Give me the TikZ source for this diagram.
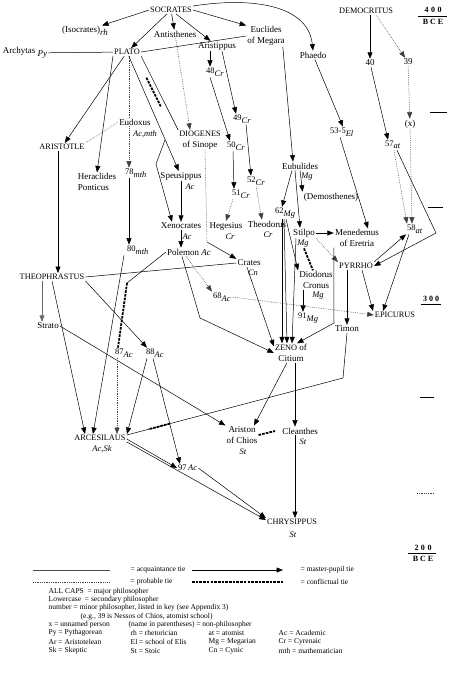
\documentclass[tikz,border=0pt]{standalone}
\usepackage{fontspec}
\setmainfont{Liberation Serif}
\usetikzlibrary{arrows.meta,calc}
\newcommand{\sbx}[1]{\raisebox{-2.5pt}{\itshape #1}}
\tikzset{
  nmA/.style={font=\fontsize{9}{10.5}\selectfont, inner sep=1pt},
  capA/.style={font=\fontsize{8.3}{10}\selectfont, inner sep=1pt},
  tagA/.style={font=\fontsize{8.5}{9}\selectfont\itshape, inner sep=0.5pt},
  numA/.style={font=\fontsize{8.5}{9}\selectfont, inner sep=1pt, anchor=west},
  tlA/.style={font=\fontsize{8}{8}\selectfont\bfseries, inner sep=0.5pt},
  lgA/.style={font=\fontsize{7.5}{8.5}\selectfont, inner sep=0.5pt, anchor=west},
  eAcq/.style={line width=0.5pt},
  eMP/.style={line width=0.5pt, -{Triangle[length=6.5pt,width=5pt]}},
  eProb/.style={line width=0.5pt, black!75, dash pattern=on 0.7pt off 1.1pt},
  eProbA/.style={eProb, -{Triangle[length=6.5pt,width=5pt]}},
  eConf/.style={line width=1.8pt, dash pattern=on 2.6pt off 1.1pt},
}
\begin{document}
\begin{tikzpicture}[x=1pt,y=-1pt]
\fill[white] (0,0) rectangle (449,678);
\useasboundingbox (0,0) rectangle (449,678);

% ---------- nodes ----------
\node[capA] (SOC) at (171,10) {SOCRATES};
\node[nmA] (ISO) at (85,31) {(Isocrates)\sbx{rh}};
\node[nmA] (ANT) at (175,34) {Antisthenes};
\node[capA] (PLA) at (127,52) {PLATO};
\node[nmA] (ARC) at (25,53) {Archytas \sbx{Py}};
\node[nmA] (ARI) at (217,46) {Aristippus};
\node[nmA, align=center] (EUC) at (266,36) {Euclides\\of Megara};
\node[nmA] (PHA) at (313,55) {Phaedo};
\node[capA] (DEM) at (366,11) {DEMOCRITUS};
\node[nmA] (n40) at (370,63) {40};
\node[nmA] (n39) at (408,62) {39};
\node[nmA] (nx) at (410,124) {(x)};
\node[numA] (n48) at (205,72) {48\sbx{Cr}};
\node[numA] (n49) at (232,119) {49\sbx{Cr}};
\node[numA] (n53) at (329,132) {53-5\sbx{El}};
\node[numA] (n57) at (384,145) {57\sbx{at}};
\node[numA] (n50) at (226,146) {50\sbx{Cr}};
\node[capA] (ARIS) at (62,147) {ARISTOTLE};
\node[nmA] (EUD) at (135,122) {Eudoxus};
\node[tagA] (EUDt) at (145,134) {Ac,mth};
\node[nmA, align=center] (DIO) at (200,140) {{\fontsize{8.3}{10}\selectfont DIOGENES}\\of Sinope};
\node[numA] (n78) at (124,173) {78\sbx{mth}};
\node[nmA, align=left] (HER) at (97,182) {Heraclides\\Ponticus};
\node[nmA] (SPE) at (181,176) {Speusippus};
\node[tagA] (SPEt) at (190,187) {Ac};
\node[nmA] (EUB) at (300,166) {Eubulides};
\node[tagA] (EUBt) at (307,177) {Mg};
\node[numA] (n52) at (246,181) {52\sbx{Cr}};
\node[numA] (n51) at (231,194) {51\sbx{Cr}};
\node[nmA] (DEMO) at (331,197) {(Demosthenes)};
\node[numA] (n62) at (274,213) {62\sbx{Mg}};
\node[nmA] (XEN) at (181,226) {Xenocrates};
\node[tagA] (XENt) at (187,237) {Ac};
\node[nmA] (HEG) at (226,226) {Hegesius};
\node[tagA] (HEGt) at (230,237) {Cr};
\node[nmA] (THD) at (267,224) {Theodorus};
\node[tagA] (THDt) at (268,235) {Cr};
\node[nmA] (STI) at (304,233) {Stilpo};
\node[tagA] (STIt) at (303,244) {Mg};
\node[nmA, align=center] (MEN) at (357,238) {Menedemus\\of Eretria};
\node[numA] (n58) at (406,229) {58\sbx{at}};
\node[numA] (n80) at (126,250) {80\sbx{mth}};
\node[nmA] (POL) at (189,252) {Polemon \textit{Ac}};
\node[nmA] (CRA) at (249,263) {Crates};
\node[tagA] (CRAt) at (253,273) {Cn};
\node[capA] (PYR) at (356,266) {PYRRHO};
\node[nmA, align=center] (DIOD) at (316,280) {Diodorus\\Cronus};
\node[tagA] (DIODt) at (318,296) {Mg};
\node[capA] (THEO) at (52,277) {THEOPHRASTUS};
\node[numA] (n68) at (212,297) {68\sbx{Ac}};
\node[capA] (EPI) at (395,315) {EPICURUS};
\node[numA] (n91) at (297,318) {91\sbx{Mg}};
\node[nmA] (STR) at (48,326) {Strato};
\node[nmA] (TIM) at (347,329) {Timon};
\node[nmA, align=center] (ZEN) at (291,353) {{\fontsize{8.3}{10}\selectfont ZENO} of\\Citium};
\node[numA] (n87) at (114,353) {87\sbx{Ac}};
\node[numA] (n88) at (145,353) {88\sbx{Ac}};
\node[capA] (ARCE) at (100,438) {ARCESILAUS};
\node[tagA] (ARCEt) at (102,449) {Ac,Sk};
\node[nmA, align=center] (ARIST) at (242,435) {Ariston\\of Chios};
\node[tagA] (ARISTt) at (243,452) {St};
\node[nmA] (CLE) at (300,431) {Cleanthes};
\node[tagA] (CLEt) at (303,442) {St};
\node[numA] (n97) at (177,468) {97\,\textit{Ac}};
\node[capA] (CHR) at (292,522) {CHRYSIPPUS};
\node[tagA] (CHRt) at (293,535) {St};

% ---------- helper coordinates ----------
\coordinate (cE) at (129,0);
\coordinate (c48) at ([xshift=5pt]n48.north west);
\coordinate (b1) at (165,140);
\coordinate (b2) at (156,164);
\coordinate (b3) at (207,242);
\coordinate (b4) at (436,233);
\coordinate (b5) at (343,378);
\coordinate (b6) at (127,283);
\coordinate (b7) at (200,318);
\coordinate (b8) at (334,323);
\coordinate (cZ) at ([xshift=4pt]ZEN.south);
\coordinate (cC) at ([xshift=-5pt]CLE.south);
\coordinate (cA) at ([xshift=17pt]ARCE.north);

% ---------- connectors ----------
\draw[eMP] (SOC.west) -- (ISO);
\draw[eMP] (SOC) -- (ANT);
\draw[eMP] (SOC) -- (PLA);
\draw[eMP] (SOC) -- (ARI);
\draw[eMP] (SOC.east) -- (EUC.north west);
\draw[eMP] (SOC.north east) .. controls (250,-3) and (308,4) .. (PHA.north);
\draw[eAcq] (PLA.east) -- (EUC.west);
\draw[eAcq] (ARC) -- (PLA);
\draw[eMP] (PLA) -- (ARIS);
\draw[eMP] (PLA.south west) -- (HER.north);
\draw[eProb] (PLA.south -| cE) -- (EUD.north -| cE);
\draw[eProbA] (EUD.south -| cE) -- (n78.north -| cE);
\draw[eMP] (n78.south -| cE) -- (n80.north -| cE);
\draw[eProb] (EUD.west) -- (ARIS.north east);
\draw[eAcq] (PLA.south east) -- (DIO.north west);
\draw[eConf] ($(PLA.south east)!0.28!(DIO.north west)+(-5,1)$) -- ($(PLA.south east)!0.68!(DIO.north west)+(-5,1)$);
\draw[eProbA] (ANT) -- ([xshift=-10pt]DIO.north);
\draw[eMP] (PLA) -- (SPE);
\draw[eMP] (b1) -- (b2) -- ([xshift=-9pt]XEN.north);
\draw[eMP] (SPE.south) -- (XEN.north);
\draw[eMP] (XEN.south) -- (XEN.south |- POL.north);
\draw[eProb] ([xshift=5pt]DIO.south) -- (b3);
\draw[eMP] (b3) -- (CRA.north west);

\draw[eMP] (c48 |- ARI.south) -- (c48);
\draw[eMP] ([xshift=5pt]ARI.south) -- ([xshift=4pt]n49.north west);
\draw[eMP] ([xshift=5pt]n48.south west) -- ([xshift=4pt]n50.north west);
\draw[eMP] ([xshift=7pt]n50.south west) -- ([xshift=3pt]n51.north west);
\draw[eMP] ([xshift=14pt]n49.south west) -- ([xshift=5pt]n52.north west);
\draw[eProbA] ([xshift=2pt]n51.south west) -- (HEG.north);
\draw[eProbA] ([xshift=10pt]n52.south west) -- ([xshift=-5pt]THD.north);

\draw[eMP] ([xshift=-3pt]EUC.south east) -- ([xshift=-7pt]EUB.north);
\draw[eMP] (EUB.south) -- (DEMO.north west);
\draw[eMP] ([xshift=-8pt]EUB.south) -- ([xshift=8pt]n62.north west);
\draw[eMP] ([xshift=-5pt]EUB.south) -- ([xshift=-4pt]STI.north);
\draw[eMP] (STI.east) -- (STI.east -| MEN.west);
\draw[eProbA] (STI.south east) -- (PYR.north west);
\draw[eConf] ([xshift=1pt]STIt.south) -- ([xshift=-3pt]DIOD.north);
\draw[eMP] ([xshift=12pt]n62.south west) -- (DIOD.north west);
\draw[eMP] ([xshift=-13pt]DIOD.south) -- ([xshift=6pt]n91.north west);
\draw[eMP] ([xshift=8pt]n62.south west) -- ([xshift=-9pt]ZEN.north);
\draw[eMP] ([xshift=10pt]n62.south west) -- ([xshift=-4pt]ZEN.north);
\draw[eMP] ([xshift=-8pt]STI.south) -- ([xshift=1pt]ZEN.north);
\draw[eMP] (MEN.south west) -- (b8) -- ([xshift=6pt]ZEN.north);

\draw[eMP] (PHA) -- ([xshift=14pt]n53.north west);
\draw[eMP] ([xshift=11pt]n53.south west) -- ([xshift=11pt]MEN.north);
\draw[eMP] ([xshift=4pt]DEM.south) -- (n40);
\draw[eProbA] ([xshift=10pt]DEM.south) -- (n39);
\draw[eProbA] (n39) -- (nx);
\draw[eMP] (n40) -- ([xshift=4pt]n57.north west);
\draw[eProbA] (nx) -- ([xshift=6pt]n58.north west);
\draw[eProbA] ([xshift=10pt]n57.south west) -- ([xshift=1pt]n58.north west);
\draw[eMP] ([xshift=13pt]n57.south west) -- (b4) -- (PYR.east);
\draw[eMP] (PYR.north east) -- (n58.south west);
\draw[eMP] ([xshift=3pt]n58.south west) -- ([xshift=-12pt]EPI.north);
\draw[eMP] ([xshift=6pt]PYR.south) -- ([xshift=-22pt]EPI.north);
\draw[eMP] (PYR.south -| TIM.north) -- (TIM.north);
\draw[eProbA] (n68.east) -- (EPI.west);
\draw[eAcq] (TIM.south) -- (b5) -- ([yshift=3pt]ARCE.east);
\draw[eConf] ($(b5)!0.80!([yshift=3pt]ARCE.east)$) -- ($(b5)!0.90!([yshift=3pt]ARCE.east)$);

\draw[eMP] ([xshift=-4pt]ZEN.south) -- ([xshift=12pt]ARIST.north);
\draw[eMP] (cZ) -- (cZ |- CLE.north);
\draw[eMP] (cC) -- (cC |- CHR.north);
\draw[eConf] (ARIST.east) -- ([xshift=-6pt]CLE.west);
\draw[eMP] ([yshift=-1pt]ARCE.east) -- (n97.west);
\draw[eMP] (ARCE.south east) -- ([yshift=2pt]CHR.west);
\draw[eMP] (n97.east) -- (CHR.north west);

\draw[eMP, black!60] ([xshift=-10pt]THEO.south) -- ([xshift=-6pt]STR.north);
\draw[eMP] ([xshift=-4pt]ARIS.south) -- ([xshift=6pt]THEO.north);
\draw[eAcq] (THEO.east) -- (CRA.west);
\draw[eMP] (THEO.south east) -- ([xshift=2pt]n88.north west);
\draw[eMP] (THEO.south) -- ([xshift=-15pt]ARCE.north);
\draw[eMP] (STR.east) -- (ARIST.north west);
\draw[eMP] ([xshift=-2pt]n80.south west) -- ([xshift=-7pt]ARCE.north);
\draw[eAcq] (POL.west) -- (b6);
\draw[eConf] (b6) -- ([xshift=4pt]n87.north west);
\draw[eProbA] ([xshift=3pt]n87.south west) -- (cA);
\draw[eMP] ([xshift=2pt]n88.south west) -- ([xshift=27pt]ARCE.north);
\draw[eMP] ([xshift=8pt]n88.south west) -- ([xshift=3pt]n97.north west);
\draw[eMP] ([xshift=-7pt]POL.south) -- (b7) -- (ZEN.west);
\draw[eProbA] ([xshift=-3pt]POL.south) -- (n68.north west);
\draw[eMP] ([xshift=-2pt]CRA.south) -- ([yshift=-3pt]ZEN.north west);

% ---------- time line ----------
\node[tlA] (T400) at (433,10) {4\hspace{2.5pt}0\hspace{2.5pt}0};
\node[tlA] (TB1) at (433,22) {B\hspace{2pt}C\hspace{2pt}E};
\draw[line width=0.5pt] (418,16) -- (447,16);
\draw[line width=0.5pt] (430,112) -- (447,112);
\draw[line width=0.5pt] (428,207) -- (443,207);
\node[tlA] (T300) at (431,299) {3\hspace{2pt}0\hspace{2pt}0};
\draw[line width=0.5pt] (421,304) -- (441,304);
\draw[line width=0.5pt] (420,397) -- (434,397);
\draw[eProb] (417,493) -- (435,493);
\node[tlA] (T200) at (423,548) {2\hspace{2.5pt}0\hspace{2.5pt}0};
\draw[line width=0.5pt] (408,553) -- (436,553);
\node[tlA] (TB2) at (423,559) {B\hspace{2pt}C\hspace{2pt}E};

% ---------- legend ----------
\draw[eAcq, black!70] (33,570) -- (110,570);
\node[lgA] (L1) at (130,570) {= acquaintance tie};
\draw[eMP] (192,570) -- (283,570);
\node[lgA] (L2) at (300,570) {= master-pupil tie};
\draw[eProb] (33,582) -- (110,582);
\node[lgA] (L3) at (130,582) {= probable tie};
\draw[eConf] (192,582) -- (283,582);
\node[lgA] (L4) at (300,582) {= conflictual tie};
\node[lgA] (L5) at (48,592) {ALL CAPS\ \ = major philosopher};
\node[lgA] (L6) at (48,600) {Lowercase\ \ = secondary philosopher};
\node[lgA] (L7) at (48,608) {number = minor philosopher, listed in key (see Appendix 3)};
\node[lgA] (L8) at (80,617) {(e.g., 39 is Nessos of Chios, atomist school)};
\node[lgA] (L9) at (48,625) {x = unnamed person};
\node[lgA] (L10) at (128,625) {(name in parentheses) = non-philosopher};
\node[lgA] (L11) at (48,633) {Py = Pythagorean};
\node[lgA] (L12) at (130,633) {rh = rhetorician};
\node[lgA] (L13) at (208,633) {at = atomist};
\node[lgA] (L14) at (278,633) {Ac = Academic};
\node[lgA] (L15) at (48,642) {Ar = Aristotelean};
\node[lgA] (L16) at (130,642) {El = school of Elis};
\node[lgA] (L17) at (208,642) {Mg = Megarian};
\node[lgA] (L18) at (278,642) {Cr = Cyrenaic};
\node[lgA] (L19) at (48,651) {Sk = Skeptic};
\node[lgA] (L20) at (130,651) {St = Stoic};
\node[lgA] (L21) at (208,651) {Cn = Cynic};
\node[lgA] (L22) at (278,651) {mth = mathematician};
\end{tikzpicture}
\end{document}
